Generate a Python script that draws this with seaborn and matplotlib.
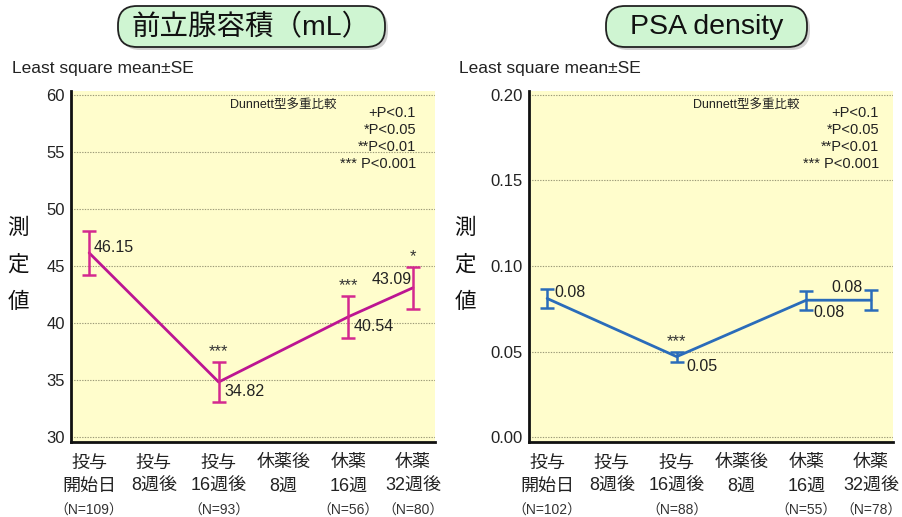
import matplotlib
matplotlib.use("Agg")
import matplotlib.pyplot as plt
import matplotlib.transforms as mtransforms
from matplotlib.patches import FancyBboxPatch
import seaborn as sns
import pandas as pd

# ---- data -------------------------------------------------------------
categories = ["投与\n開始日", "投与\n8週後", "投与\n16週後", "休薬後\n8週", "休薬\n16週", "休薬\n32週後"]
measured_idx = [0, 2, 4, 5]

vol_mean = [46.15, 34.82, 40.54, 43.09]
vol_se = [1.9, 1.75, 1.85, 1.85]
vol_n = ["（N=109）", "", "（N=93）", "", "（N=56）", "（N=80）"]
vol_sig = ["", "***", "***", "*"]

psad_mean = [0.081, 0.047, 0.080, 0.080]
psad_se = [0.0053, 0.0030, 0.0055, 0.0058]
psad_n = ["（N=102）", "", "（N=88）", "", "（N=55）", "（N=78）"]
psad_sig = ["", "***", "", ""]

legend_lines = ["+P<0.1", "*P<0.05", "**P<0.01", "*** P<0.001"]

# ---- style ------------------------------------------------------------
sns.set_theme(style="white")
plt.rcParams["font.family"] = ["Liberation Sans", "Noto Sans CJK JP", "DejaVu Sans"]
plt.rcParams["axes.unicode_minus"] = False

W, H = 902, 517
fig = plt.figure(figsize=(W / 100, H / 100), dpi=100)


def fx(x):
    return x / W


def fy(y):
    return 1 - y / H


def make_axes(x0, x1, y0, y1):
    return fig.add_axes([fx(x0), fy(y1), fx(x1 - x0), (y1 - y0) / H])


def draw_panel(ax, means, ses, ns, sigs, color, ebcolor, ylim, yticks, fmt,
               label_offsets):
    df = pd.DataFrame({"x": measured_idx, "y": means})
    ax.set_facecolor("#FFFDCC")
    sns.lineplot(data=df, x="x", y="y", ax=ax, color=color, lw=2.0,
                 marker=None, errorbar=None, zorder=3)
    ax.errorbar(measured_idx, means, yerr=ses, fmt="none", ecolor=ebcolor,
                elinewidth=1.8, capsize=5, capthick=1.8, zorder=4)
    ax.set_xlim(-0.28, 5.34)
    ax.set_ylim(*ylim)
    ax.set_yticks(yticks)
    ax.set_yticklabels([fmt.format(t) for t in yticks])
    ax.set_xticks(range(len(categories)))
    ax.set_xticklabels(categories, fontsize=13, linespacing=1.5,
                       color="#222222")
    ax.set_xlabel("")
    ax.set_ylabel("")
    ax.tick_params(axis="y", labelsize=12, colors="#222222", length=5,
                   width=1.3, direction="inout", pad=2)
    ax.tick_params(axis="x", length=5, width=1.3, direction="out",
                   colors="#222222", pad=4)
    ax.grid(axis="y", linestyle=(0, (1.2, 1.2)), color="#9c9a78", lw=0.8)
    ax.grid(axis="x", visible=False)
    for s in ["top", "right"]:
        ax.spines[s].set_visible(False)
    for s in ["left", "bottom"]:
        ax.spines[s].set_color("#111111")
        ax.spines[s].set_linewidth(2.0)

    trans = mtransforms.blended_transform_factory(ax.transData, ax.transAxes)
    for i, n in enumerate(ns):
        if n:
            ax.text(i, -0.197, n, transform=trans, ha="center", va="center",
                    fontsize=10, color="#333333")

    for xi, m, se, sg, (dx, dy, ha) in zip(measured_idx, means, ses, sigs,
                                           label_offsets):
        ax.annotate(f"{m:.2f}", (xi, m), xytext=(dx, dy),
                    textcoords="offset points", ha=ha, va="center",
                    fontsize=11.5, color="#222222", zorder=5)
        if sg:
            ax.annotate(sg, (xi, m + se), xytext=(0, 2),
                        textcoords="offset points", ha="center",
                        va="bottom", fontsize=12, color="#333333")


def title_box(x0, x1, y0, y1, text):
    shadow = FancyBboxPatch((x0 + 3, H - y1 - 3), x1 - x0, y1 - y0,
                            boxstyle="round,pad=0,rounding_size=19",
                            transform=None, facecolor="#999999",
                            edgecolor="none", alpha=0.45)
    box = FancyBboxPatch((x0, H - y1), x1 - x0, y1 - y0,
                         boxstyle="round,pad=0,rounding_size=19",
                         transform=None, facecolor="#CFF5D2",
                         edgecolor="#222222", lw=1.3)
    fig.patches.extend([shadow, box])
    fig.text(fx((x0 + x1) / 2), fy((y0 + y1) / 2 + 1), text, ha="center",
             va="center", fontsize=20.5, color="#111111")


def side_text(x0, x_legend_right):
    fig.text(fx(x0 + 12), fy(68), "Least square mean±SE", fontsize=12.5,
             color="#222222", va="center", ha="left")
    for k, ch in enumerate("測定値"):
        fig.text(fx(x0 + 18), fy(228 + 37 * k), ch, fontsize=15.5,
                 color="#111111", ha="center", va="center")
    fig.text(fx(x_legend_right - 186), fy(106), "Dunnett型多重比較",
             fontsize=9, color="#222222", ha="left", va="center")
    for k, t in enumerate(legend_lines):
        fig.text(fx(x_legend_right), fy(113 + 17 * k), t, fontsize=10.5,
                 color="#222222", ha="right", va="center")


# ---- left panel: prostate volume --------------------------------------
ax1 = make_axes(71, 435, 91, 442)
draw_panel(ax1, vol_mean, vol_se, vol_n, vol_sig, "#BC1592", "#D4288F",
           (29.56, 60.35), [30, 35, 40, 45, 50, 55, 60], "{:.0f}",
           [(3, 4, "left"), (4, -7, "left"), (4, -7, "left"), (-1, 6, "right")])
title_box(118, 385, 6, 47, "前立腺容積（mL）")
side_text(0, 416)

# ---- right panel: PSA density -----------------------------------------
ax2 = make_axes(529, 893, 91, 442)
draw_panel(ax2, psad_mean, psad_se, psad_n, psad_sig, "#2A6CBA", "#2A6CBA",
           (-0.0029, 0.2023), [0.0, 0.05, 0.10, 0.15, 0.20], "{:.2f}",
           [(5, 4, "left"), (7, -7, "left"), (5, -9, "left"), (-6, 9, "right")])
title_box(606, 807, 6, 47, "PSA density")
side_text(447, 879)

fig.savefig("out.png", dpi=100)
